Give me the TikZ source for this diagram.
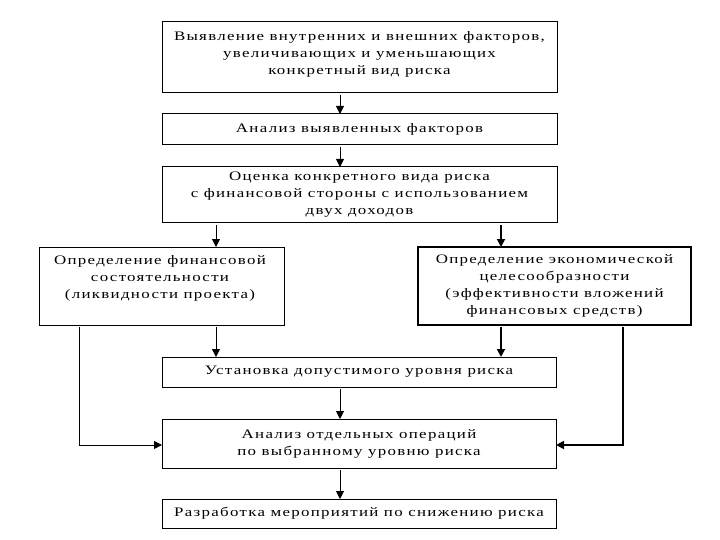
\documentclass[tikz,border=0pt]{standalone}
\usepackage{fontspec}
\setmainfont{Liberation Serif}[FakeStretch=1.3,LetterSpace=10]
\usetikzlibrary{arrows.meta}
\begin{document}
\begin{tikzpicture}[x=1pt,y=-1pt,
  box/.style={draw,line width=1pt,inner sep=0pt,outer sep=0pt,align=center,font=\fontsize{13}{17}\selectfont},
  boldbox/.style={box,line width=1.6pt},
  txt/.style={inner sep=0pt,align=center,font=\fontsize{13}{17}\selectfont},
  arr/.style={line width=1pt,-{Triangle[length=8pt,width=8pt]},shorten <=2pt},
  boldarr/.style={arr,line width=1.8pt},
  link/.style={line width=1pt,-{Triangle[length=8pt,width=8pt]},shorten <=2pt},
  boldlink/.style={link,line width=1.8pt}]
\useasboundingbox (0,0) rectangle (720,540);
\fill[white] (0,0) rectangle (720,540);
% boxes
\node[box,minimum width=395,minimum height=71] (b1) at (359.5,57.5) {};
\node[txt] (t1) at (359.5,54) {Выявление внутренних и внешних факторов,\\увеличивающих и уменьшающих\\конкретный вид риска};
\node[box,minimum width=395,minimum height=31] (b2) at (359.5,129.5) {Анализ выявленных факторов};
\node[box,minimum width=395,minimum height=56] (b3) at (359.5,195) {Оценка конкретного вида риска\\с финансовой стороны с использованием\\двух доходов};
\node[box,minimum width=245,minimum height=78] (bl) at (161.5,286) {};
\node[txt] (tl) at (160,278) {Определение финансовой\\состоятельности\\(ликвидности проекта)};
\node[boldbox,minimum width=273,minimum height=78] (br) at (554.5,286) {Определение экономической\\целесообразности\\(эффективности вложений\\финансовых средств)};
\node[box,minimum width=394,minimum height=30] (b4) at (359,372) {Установка допустимого уровня риска};
\node[box,minimum width=394,minimum height=49] (b5) at (359,443.5) {Анализ отдельных операций\\по выбранному уровню риска};
\node[box,minimum width=394,minimum height=29] (b6) at (359,513.5) {Разработка мероприятий по снижению риска};
% helper coordinates
\coordinate (ax) at (340,0);
\coordinate (xl) at (216,0);
\coordinate (xr) at (501,0);
\coordinate (xL) at (79,0);
\coordinate (xR) at (623,0);
\coordinate (hy) at (0,445);
% connectors
\draw[arr] (b1.south -| ax) -- (b2.north -| ax);
\draw[arr] (b2.south -| ax) -- (b3.north -| ax);
\draw[arr] (b3.south -| xl) -- (bl.north -| xl);
\draw[boldarr] (b3.south -| xr) -- (br.north -| xr);
\draw[arr] (bl.south -| xl) -- (b4.north -| xl);
\draw[boldarr] (br.south -| xr) -- (b4.north -| xr);
\draw[arr] (b4.south -| ax) -- (b5.north -| ax);
\draw[arr] (b5.south -| ax) -- (b6.north -| ax);
\draw[link] (bl.south -| xL) -- (xL |- hy) -- (b5.west |- hy);
\draw[boldlink] (br.south -| xR) -- (xR |- hy) -- (b5.east |- hy);
\end{tikzpicture}
\end{document}
